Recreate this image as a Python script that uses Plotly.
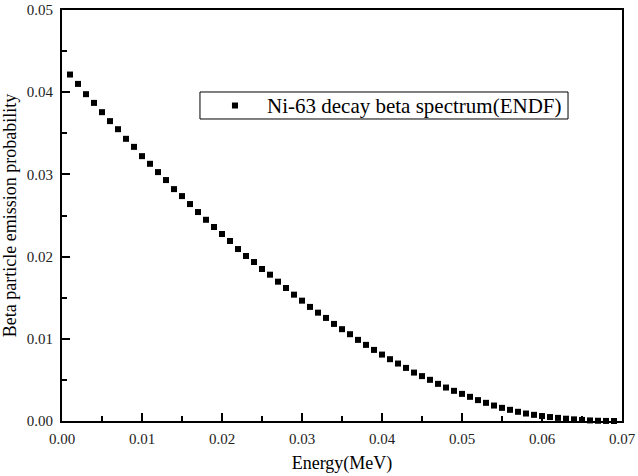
import plotly.graph_objects as go

energy_mev = [round(0.001 * i, 3) for i in range(1, 70)]
probability = [
    0.04215, 0.04101, 0.03976, 0.03870, 0.03757, 0.03648, 0.03550, 0.03433, 0.03335, 0.03222,
    0.03129, 0.03028, 0.02931, 0.02821, 0.02736, 0.02639, 0.02542, 0.02448, 0.02360, 0.02275,
    0.02190, 0.02092, 0.02007, 0.01934, 0.01849, 0.01780, 0.01695, 0.01618, 0.01537, 0.01464,
    0.01388, 0.01318, 0.01254, 0.01181, 0.01117, 0.01056, 0.00987, 0.00926, 0.00865, 0.00808,
    0.00752, 0.00699, 0.00646, 0.00589, 0.00546, 0.00501, 0.00452, 0.00407, 0.00367, 0.00330,
    0.00294, 0.00254, 0.00221, 0.00188, 0.00160, 0.00136, 0.00112, 0.00091, 0.00075, 0.00060,
    0.00048, 0.00038, 0.00028, 0.00020, 0.00013, 0.00007, 0.00003, 0.00001, 0.00000,
]
series_name = "Ni-63 decay beta spectrum(ENDF)"
x_title = "Energy(MeV)"
y_title = "Beta particle emission probability"
x_ticks = [0.00, 0.01, 0.02, 0.03, 0.04, 0.05, 0.06, 0.07]
y_ticks = [0.00, 0.01, 0.02, 0.03, 0.04, 0.05]

FONT = "Liberation Serif, Times New Roman, serif"

fig = go.Figure()
fig.add_trace(go.Scatter(
    x=energy_mev, y=probability, mode="markers", name=series_name,
    marker=dict(symbol="square", size=6, color="black", line=dict(width=0)),
    showlegend=False, cliponaxis=False,
))

axis_common = dict(
    showline=True, linecolor="black", linewidth=2, mirror=True,
    showgrid=False, zeroline=False, automargin=False,
    ticks="inside", ticklen=8, tickwidth=2, tickcolor="black",
    tickfont=dict(family=FONT, size=15, color="#222"),
)

fig.update_xaxes(
    range=[0, 0.07], tickvals=x_ticks, ticktext=[f"{v:.2f}" for v in x_ticks],
    minor=dict(ticks="inside", ticklen=5, tickwidth=2, tickcolor="black", dtick=0.005, tick0=0),
    title=dict(text=x_title, font=dict(family=FONT, size=18, color="black"), standoff=10),
    ticklabelstandoff=3,
    **axis_common,
)
fig.update_yaxes(
    range=[0, 0.05], tickvals=y_ticks, ticktext=[f"{v:.2f}" for v in y_ticks],
    minor=dict(ticks="inside", ticklen=5, tickwidth=2, tickcolor="black", dtick=0.005, tick0=0),
    title=dict(text=y_title, font=dict(family=FONT, size=18, color="black"), standoff=6),
    ticklabelstandoff=4,
    **axis_common,
)

# Legend drawn as a framed box (paper coordinates of the plot area)
fig.add_shape(type="rect", xref="paper", yref="paper",
              x0=0.2464, x1=0.9036, y0=0.7348, y1=0.8005,
              line=dict(color="black", width=1), fillcolor="white", layer="above")
fig.add_shape(type="rect", xref="paper", yref="paper",
              x0=0.3089 - 0.0054, x1=0.3089 + 0.0054, y0=0.7676 - 0.0073, y1=0.7676 + 0.0073,
              line=dict(width=0), fillcolor="black", layer="above")
fig.add_annotation(xref="paper", yref="paper", x=0.3625, y=0.7676,
                   xanchor="left", yanchor="middle", showarrow=False,
                   text=series_name, font=dict(family=FONT, size=21, color="black"))

fig.update_layout(
    width=638, height=476,
    margin=dict(l=62, r=16, t=10, b=55),
    paper_bgcolor="white", plot_bgcolor="white",
    font=dict(family=FONT, color="black"),
    showlegend=False,
)

fig.write_html("out.html", config={"displayModeBar": False},
               post_script="document.body.style.margin='0';document.body.style.overflow='hidden';")
